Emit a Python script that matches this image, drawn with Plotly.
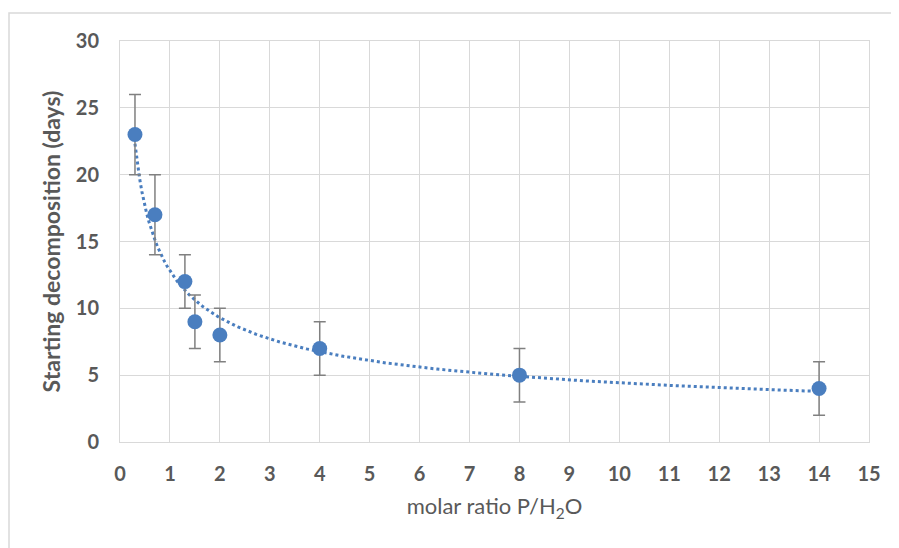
import numpy as np
import plotly.graph_objects as go

# Data
molar_ratio = [0.3, 0.7, 1.3, 1.5, 2, 4, 8, 14]
start_days = [23, 17, 12, 9, 8, 7, 5, 4]
err_days = [3, 3, 2, 2, 2, 2, 2, 2]
x_ticks = list(range(0, 16))
y_ticks = [0, 5, 10, 15, 20, 25, 30]

# Power trendline (least squares on logs, as a spreadsheet power trendline)
lx = np.log(molar_ratio)
ly = np.log(start_days)
b, lna = np.polyfit(lx, ly, 1)
xt = np.linspace(min(molar_ratio), max(molar_ratio), 300)
yt = np.exp(lna) * xt ** b

blue = "#4A7EBF"
grey_txt = "#595959"
font_fam = "Lato, 'Open Sans', sans-serif"

fig = go.Figure()
fig.add_trace(go.Scatter(
    x=xt, y=yt, mode="lines",
    line=dict(color=blue, width=3, dash="dot"),
    hoverinfo="skip", showlegend=False,
))
fig.add_trace(go.Scatter(
    x=molar_ratio, y=start_days, mode="markers",
    marker=dict(color=blue, size=15),
    error_y=dict(type="data", array=err_days, visible=True,
                 color="#808080", thickness=1.5, width=6),
    showlegend=False,
))

# page has an 8px body margin, so the figure is sized/positioned to compensate
W, H = 891, 540
L, R, T, B = 112, 30, 33, 106
pw, ph = W - L - R, H - T - B

fig.update_layout(
    width=W, height=H,
    margin=dict(l=L, r=R, t=T, b=B),
    paper_bgcolor="white", plot_bgcolor="white",
    font=dict(family=font_fam, color=grey_txt),
    xaxis=dict(
        range=[0, 15], tickvals=x_ticks, ticktext=[str(v) for v in x_ticks],
        showgrid=True, gridcolor="#D9D9D9", gridwidth=1,
        showline=True, linecolor="#D9D9D9", linewidth=1, mirror=True,
        zeroline=False, ticks="",
        tickfont=dict(size=20, color=grey_txt, family=font_fam, weight="bold"),
        ticklabelstandoff=14,
        title=dict(text="molar ratio P/H<sub>2</sub>O",
                   font=dict(size=22, color=grey_txt, family=font_fam),
                   standoff=14),
    ),
    yaxis=dict(
        range=[0, 30], tickvals=y_ticks, ticktext=[str(v) for v in y_ticks],
        showgrid=True, gridcolor="#D9D9D9", gridwidth=1,
        showline=True, linecolor="#D9D9D9", linewidth=1, mirror=True,
        zeroline=False, ticks="",
        tickfont=dict(size=20, color=grey_txt, family=font_fam, weight="bold"),
        ticklabelstandoff=16,
        title=dict(text="Starting decomposition (days)",
                   font=dict(size=23, color=grey_txt, family=font_fam, weight="bold"),
                   standoff=8),
    ),
)

# Outer chart-area border (partially visible: left and top edges)
fig.add_shape(
    type="rect", xref="paper", yref="paper",
    x0=(1 - L) / pw, x1=(W + 10 - L) / pw,
    y0=-(H + 10 - (T + ph)) / ph, y1=1 + (T - 5) / ph,
    line=dict(color="#D9D9D9", width=1.5), fillcolor="rgba(0,0,0,0)",
    layer="below",
)

fig.write_html("out.html")
